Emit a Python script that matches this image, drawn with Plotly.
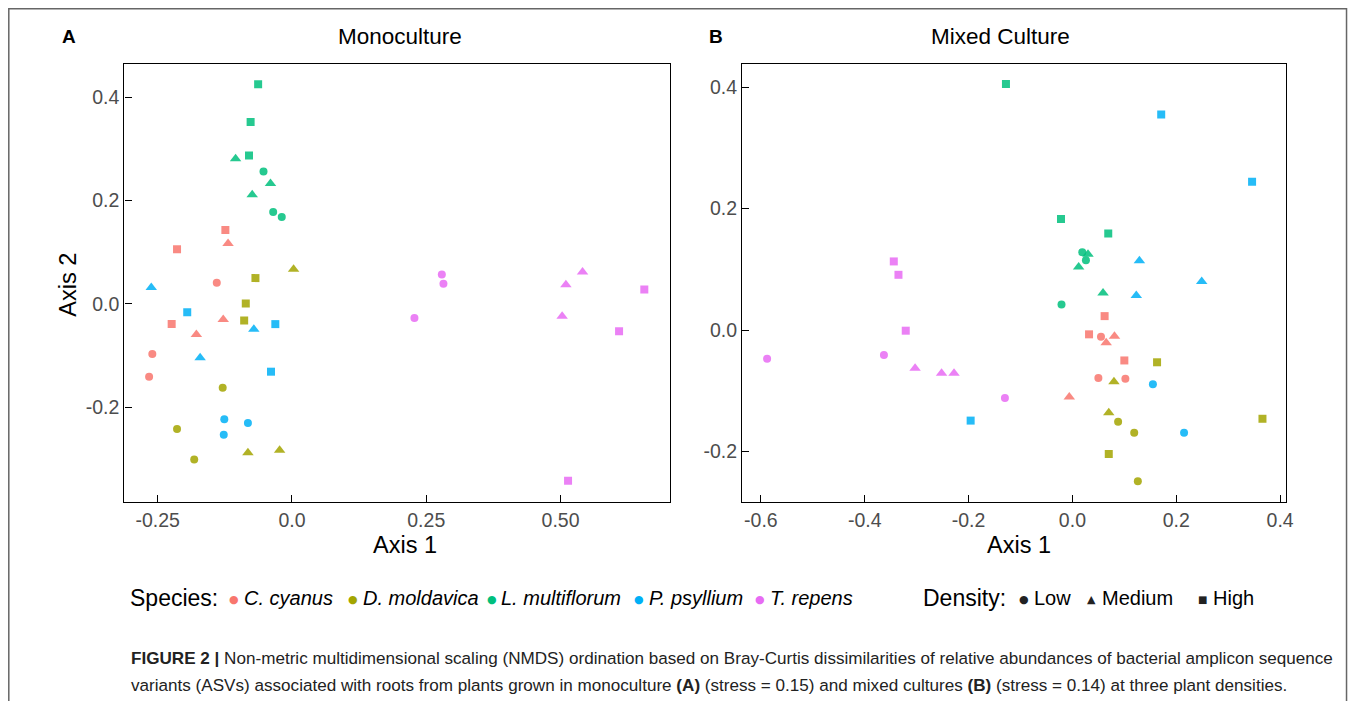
import plotly.graph_objects as go

# The page body adds an 8px margin, so the figure is shifted by it and sized
# to reach the right and bottom edges of the 1360x701 window.
OFF = 8
W, H = 1360 - OFF, 701 - OFF
FONT = "Liberation Sans, Arial, Helvetica, sans-serif"

species_names = ["C. cyanus", "D. moldavica", "L. multiflorum", "P. psyllium", "T. repens"]
species_colors = ["#F8766D", "#A3A500", "#00BF7D", "#00B0F6", "#E76BF3"]
density_names = ["Low", "Medium", "High"]
density_symbols = ["circle", "triangle-up", "square"]
density_sizes = [8, 10, 8]

# Panel A (Monoculture) NMDS scores
mono_species = (["C. cyanus"] * 9 + ["D. moldavica"] * 9 + ["L. multiflorum"] * 9
                + ["P. psyllium"] * 9 + ["T. repens"] * 9)
mono_density = (["High"] * 3 + ["Medium"] * 3 + ["Low"] * 3) * 5
mono_x = [-0.124, -0.214, -0.224, -0.119, -0.128, -0.178, -0.140, -0.260, -0.266,
          -0.068, -0.086, -0.089, 0.003, -0.082, -0.023, -0.129, -0.214, -0.182,
          -0.063, -0.077, -0.080, -0.105, -0.040, -0.074, -0.053, -0.035, -0.019,
          -0.195, -0.031, -0.039, -0.262, -0.071, -0.171, -0.126, -0.082, -0.127,
          0.656, 0.609, 0.514, 0.541, 0.510, 0.503, 0.279, 0.282, 0.228]
mono_y = [0.143, 0.106, -0.039, 0.117, -0.030, -0.059, 0.041, -0.097, -0.141,
          0.050, 0.001, -0.032, 0.067, -0.288, -0.283, -0.162, -0.242, -0.301,
          0.425, 0.352, 0.287, 0.281, 0.233, 0.211, 0.256, 0.178, 0.168,
          -0.016, -0.039, -0.131, 0.032, -0.049, -0.104, -0.223, -0.230, -0.253,
          0.028, -0.053, -0.342, 0.062, 0.037, -0.024, 0.057, 0.039, -0.027]

# Panel B (Mixed Culture) NMDS scores
mixed_species = (["C. cyanus"] * 9 + ["D. moldavica"] * 8 + ["L. multiflorum"] * 9
                 + ["P. psyllium"] * 8 + ["T. repens"] * 9)
mixed_density = (["High"] * 3 + ["Medium"] * 3 + ["Low"] * 3
                 + ["High"] * 3 + ["Medium"] * 2 + ["Low"] * 3
                 + ["High"] * 3 + ["Medium"] * 3 + ["Low"] * 3
                 + ["High"] * 3 + ["Medium"] * 3 + ["Low"] * 2
                 + ["High"] * 3 + ["Medium"] * 3 + ["Low"] * 3)
mixed_x = [0.062, 0.032, 0.100, 0.081, 0.065, -0.006, 0.055, 0.050, 0.102,
           0.163, 0.366, 0.070, 0.080, 0.070, 0.088, 0.119, 0.126,
           -0.128, -0.022, 0.069, 0.030, 0.012, 0.059, 0.019, 0.026, -0.021,
           0.171, 0.346, -0.196, 0.129, 0.249, 0.123, 0.155, 0.215,
           -0.344, -0.335, -0.321, -0.303, -0.252, -0.228, -0.588, -0.363, -0.130]
mixed_y = [0.023, -0.007, -0.050, -0.010, -0.021, -0.110, -0.011, -0.079, -0.080,
           -0.053, -0.146, -0.204, -0.085, -0.136, -0.151, -0.169, -0.249,
           0.405, 0.183, 0.159, 0.125, 0.104, 0.061, 0.128, 0.115, 0.042,
           0.355, 0.244, -0.149, 0.114, 0.080, 0.057, -0.089, -0.169,
           0.113, 0.091, -0.001, -0.063, -0.071, -0.071, -0.047, -0.041, -0.112]

# Tick labels
mono_xticks = [-0.25, 0.0, 0.25, 0.50]
mono_xticklabels = ["-0.25", "0.0", "0.25", "0.50"]
mono_yticks = [-0.2, 0.0, 0.2, 0.4]
mono_yticklabels = ["-0.2", "0.0", "0.2", "0.4"]
mixed_xticks = [-0.6, -0.4, -0.2, 0.0, 0.2, 0.4]
mixed_xticklabels = ["-0.6", "-0.4", "-0.2", "0.0", "0.2", "0.4"]
mixed_yticks = [-0.2, 0.0, 0.2, 0.4]
mixed_yticklabels = ["-0.2", "0.0", "0.2", "0.4"]


def px(x):
    return (x - OFF) / W


def py(y):
    return 1 - (y - OFF) / H


fig = go.Figure()


def add_panel(sp, de, xs, ys, xa, ya):
    for s, col in zip(species_names, species_colors):
        for d, sym, sz in zip(density_names, density_symbols, density_sizes):
            px_ = [x for x, a, b in zip(xs, sp, de) if a == s and b == d]
            py_ = [y for y, a, b in zip(ys, sp, de) if a == s and b == d]
            if not px_:
                continue
            fig.add_trace(go.Scatter(
                x=px_, y=py_, mode="markers", xaxis=xa, yaxis=ya,
                marker=dict(color=col, symbol=sym, size=sz, opacity=0.85,
                            line=dict(width=0)),
                showlegend=False, name=f"{s} {d}"))


add_panel(mono_species, mono_density, mono_x, mono_y, "x", "y")
add_panel(mixed_species, mixed_density, mixed_x, mixed_y, "x2", "y2")

axis_common = dict(showline=True, mirror=True, linecolor="black", linewidth=1.4,
                   ticks="inside", ticklen=7, tickwidth=1, tickcolor="black",
                   showgrid=False, zeroline=False,
                   tickfont=dict(family=FONT, size=19.5, color="#4D4D4D"))

fig.update_layout(
    width=W, height=H, margin=dict(l=0, r=0, t=0, b=0),
    paper_bgcolor="white", plot_bgcolor="white", showlegend=False,
    font=dict(family=FONT),
    xaxis=dict(domain=[px(125), px(673)], range=[-0.312, 0.703],
               tickvals=mono_xticks, ticktext=mono_xticklabels, anchor="y", **axis_common),
    yaxis=dict(domain=[py(502), py(64)], range=[-0.383, 0.464],
               tickvals=mono_yticks, ticktext=mono_yticklabels, anchor="x", **axis_common),
    xaxis2=dict(domain=[px(746), px(1293)], range=[-0.636, 0.412],
                tickvals=mixed_xticks, ticktext=mixed_xticklabels, anchor="y2", **axis_common),
    yaxis2=dict(domain=[py(502), py(64)], range=[-0.283, 0.438],
                tickvals=mixed_yticks, ticktext=mixed_yticklabels, anchor="x2", **axis_common),
)

ann = []


def text(x, y, t, size, color="black", xanchor="center", bold=False, italic=False,
         angle=0, family=FONT):
    if bold:
        t = f"<b>{t}</b>"
    if italic:
        t = f"<i>{t}</i>"
    ann.append(dict(x=px(x), y=py(y), xref="paper", yref="paper", text=t,
                    showarrow=False, xanchor=xanchor, yanchor="middle",
                    textangle=angle,
                    font=dict(family=family, size=size, color=color)))


text(60, 37, "A", 19, xanchor="left", bold=True)
text(711, 37, "B", 19, xanchor="left", bold=True)
text(402, 37, "Monoculture", 22.5)
text(1006, 37, "Mixed Culture", 22.5)
text(68, 285, "Axis 2", 23.5, angle=-90)
text(407, 545, "Axis 1", 23.5)
text(1024, 545, "Axis 1", 23.5)

# Legend rows
LY = 598
text(129, LY, "Species:", 23, xanchor="left")
legend_x = [228, 348, 487, 635, 757]
for s, col, lx in zip(species_names, species_colors, legend_x):
    text(lx, LY + 1, "●", 11, color=col, xanchor="left", family="DejaVu Sans")
    text(lx + 15, LY, s, 20, xanchor="left", italic=True)

text(926, LY, "Density:", 23, xanchor="left")
dens_glyph = ["●", "▲", "■"]
dens_x = [1022, 1091, 1202]
dens_size = [11, 11, 10]
for g, lx, gs, n in zip(dens_glyph, dens_x, dens_size, density_names):
    text(lx, LY + 1, g, gs, color="#222222", xanchor="left", family="DejaVu Sans")
    text(lx + 15, LY, n, 20, xanchor="left")

cap1 = ("<b>FIGURE 2 |</b> Non-metric multidimensional scaling (NMDS) ordination based on "
        "Bray-Curtis dissimilarities of relative abundances of bacterial amplicon sequence")
cap2 = ("variants (ASVs) associated with roots from plants grown in monoculture <b>(A)</b> "
        "(stress = 0.15) and mixed cultures <b>(B)</b> (stress = 0.14) at three plant densities.")
text(130, 658, cap1, 17.1, color="#222222", xanchor="left")
text(130, 685, cap2, 17.1, color="#222222", xanchor="left")

fig.update_layout(annotations=ann)

fig.add_shape(type="rect", xref="paper", yref="paper",
              x0=px(8.8), x1=px(1353.5), y0=py(730), y1=py(8.8),
              line=dict(color="#666666", width=1.5), fillcolor="rgba(0,0,0,0)")

fig.write_html("out.html")
